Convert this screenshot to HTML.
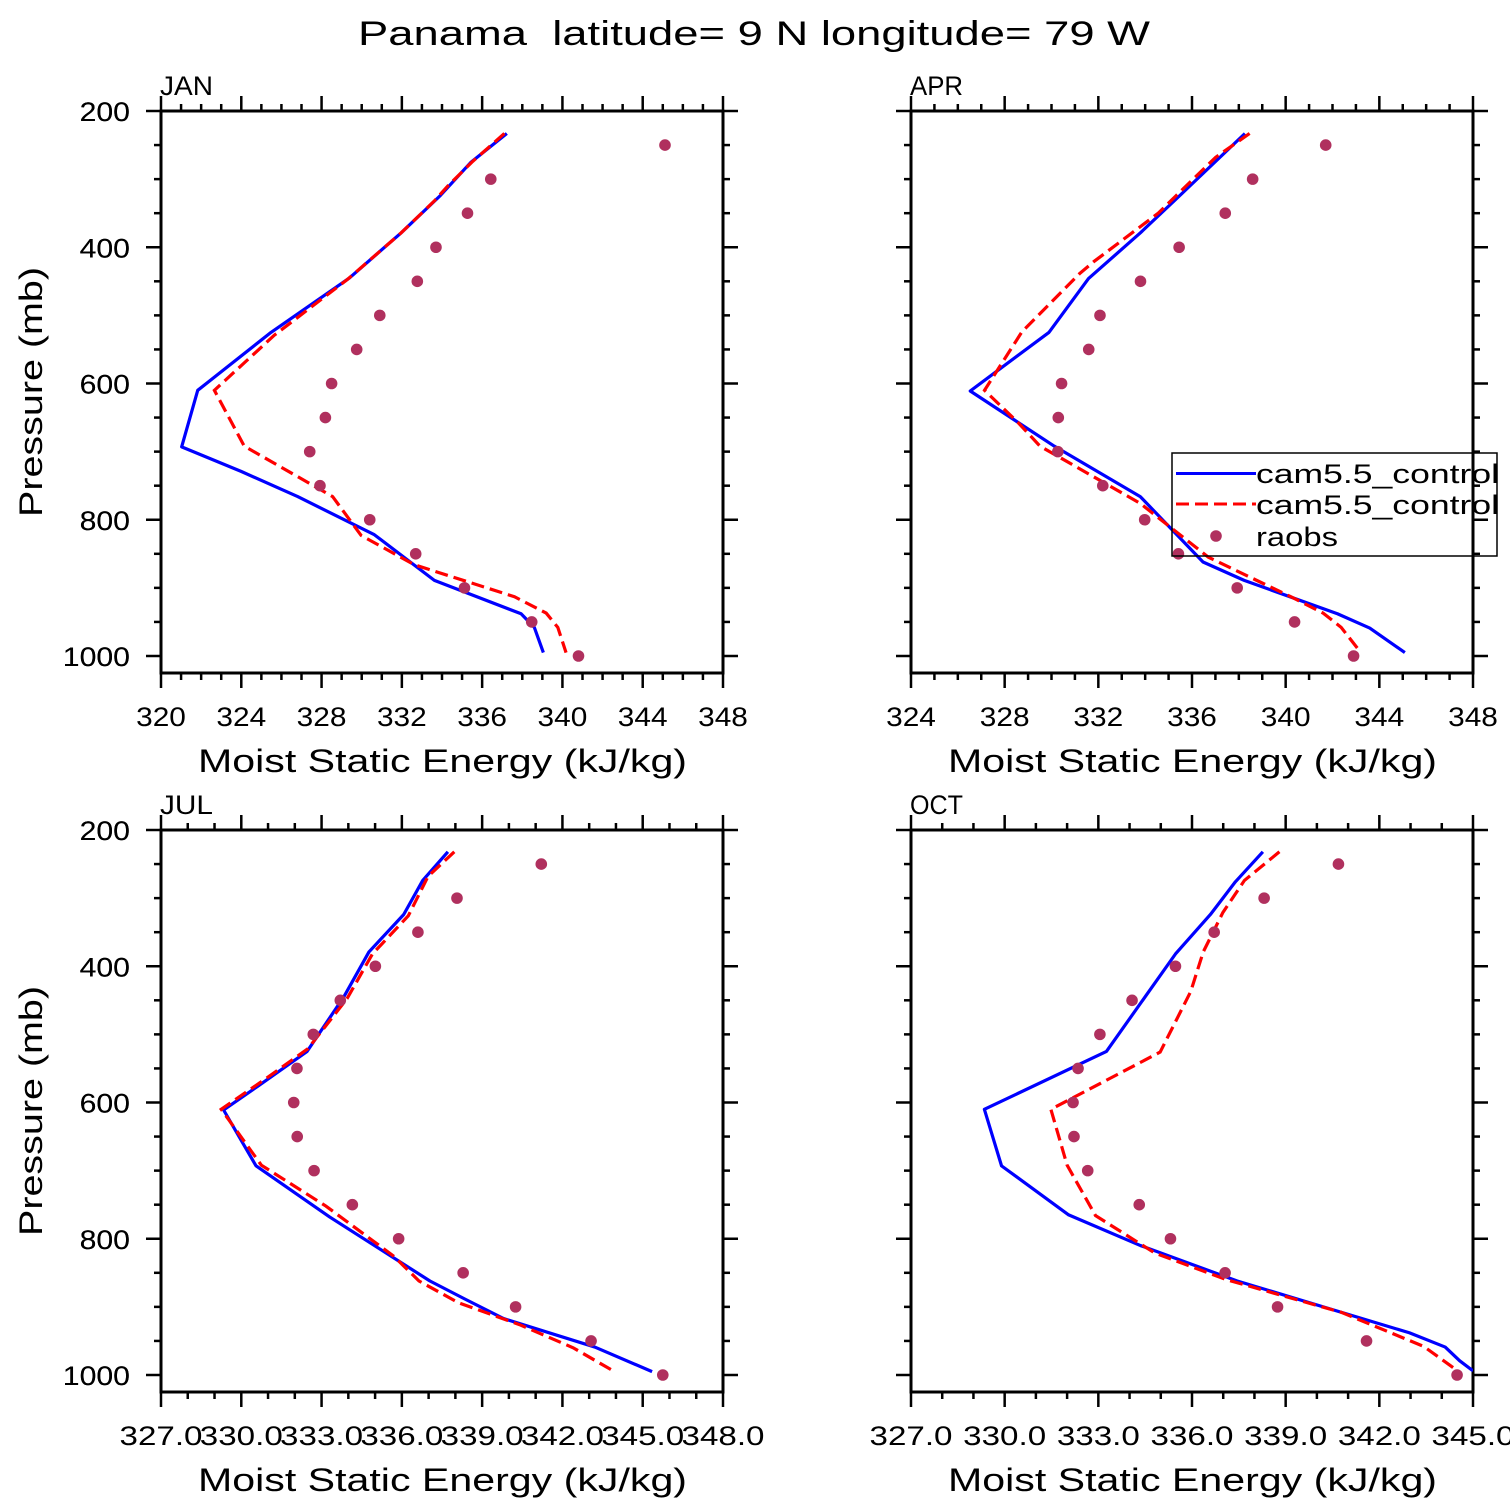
<!DOCTYPE html>
<html><head><meta charset="utf-8"><style>
html,body{margin:0;padding:0;background:#fff;}
svg{display:block;font-family:"Liberation Sans",sans-serif;}
text{white-space:pre;}
</style></head><body>
<svg id="chart" width="1510" height="1510" viewBox="0 0 1510 1510" xmlns="http://www.w3.org/2000/svg">
<rect x="0" y="0" width="1510" height="1510" fill="#fff"/>
<text x="358" y="45" font-size="34" textLength="792" lengthAdjust="spacingAndGlyphs" xml:space="preserve">Panama  latitude= 9 N longitude= 79 W</text>
</svg>
<script>
// ---- data ----
const obsPressure = [250,300,350,400,450,500,550,600,650,700,750,800,850,900,950,1000];

const janBlueP = [233,275,324,379,445,525,610,693,729,766,822,889,938,958,995];
const janBlueV = [337.23,335.45,333.92,331.96,329.39,325.48,321.83,321.03,323.99,326.81,330.63,333.62,337.94,338.60,339.05];
const janRedP = [233,274,310,332,379,447,529,610,692,766,823,866,913,937,958,995];
const janRedV = [337.11,335.53,334.29,333.62,331.96,329.30,325.65,322.66,324.15,328.55,329.97,332.62,337.61,339.19,339.77,340.18];
const janObs = [345.11,336.43,335.27,333.70,332.77,330.90,329.75,328.50,328.19,327.41,327.92,330.40,332.69,335.12,338.47,340.80];

const aprBlueP = [233,329,379,446,525,611,692,766,862,889,938,959,995];
const aprBlueV = [338.26,335.33,333.79,331.58,329.89,326.53,330.12,333.79,336.47,338.23,342.21,343.59,345.09];
const aprRedP = [233,268,324,350,421,439,524,610,658,692,710,776,855,913,937,958,995];
const aprRedV = [338.46,337.01,335.33,334.56,331.81,331.19,328.74,327.14,328.59,329.51,330.43,333.79,336.70,340.22,341.60,342.37,343.21];
const aprObs = [341.71,338.59,337.42,335.45,333.80,332.07,331.59,330.43,330.29,330.27,332.19,333.98,335.42,337.93,340.38,342.90];

const julBlueP = [232,274,324,379,445,525,576,611,693,768,862,889,917,959,995];
const julBlueV = [337.72,336.78,336.07,334.77,333.83,332.46,330.62,329.34,330.55,333.30,337.05,338.38,339.79,343.21,345.35];
const julRedP = [232,268,326,382,447,521,566,610,692,752,826,862,894,926,960,992];
const julRedV = [337.96,336.98,336.24,334.90,333.96,332.49,330.88,329.25,330.75,333.16,335.71,336.64,338.12,340.39,342.40,343.81];
const julObs = [341.21,338.06,336.60,335.01,333.70,332.69,332.08,331.96,332.09,332.72,334.15,335.88,338.29,340.25,343.07,345.75];

const octBlueP = [232,276,324,382,525,610,693,765,810,862,938,959,979,994];
const octBlueV = [338.27,337.39,336.59,335.47,333.26,329.35,329.90,332.05,334.35,337.45,342.96,344.11,344.57,345.0];
const octRedP = [232,274,321,379,437,526,610,692,766,821,860,884,908,958,992];
const octRedV = [338.80,337.68,336.99,336.36,335.96,334.98,331.48,332.0,332.91,334.81,337.10,338.94,340.78,343.42,344.45];
const octObs = [340.69,338.31,336.71,335.47,334.08,333.05,332.35,332.19,332.22,332.66,334.31,335.31,337.06,338.74,341.59,344.49];

const panelNames = ["JAN","APR","JUL","OCT"];
const xMins = [320,324,327,327];
const xMaxs = [348,348,348,345];
const xMajorSteps = [4,4,3,3];
const xLabelDecimals = [0,0,1,1];
const yTickLabels = [200,400,600,800,1000];

// ---- drawing ----
const NS = "http://www.w3.org/2000/svg";
const svg = document.getElementById("chart");
function mk(tag, attrs, parent){
  const e = document.createElementNS(NS, tag);
  for (const k in attrs) e.setAttribute(k, attrs[k]);
  (parent||svg).appendChild(e);
  return e;
}
const panels = [
  {ox:161, oy:111, bp:janBlueP, bv:janBlueV, rp:janRedP, rv:janRedV, ob:janObs},
  {ox:911, oy:111, bp:aprBlueP, bv:aprBlueV, rp:aprRedP, rv:aprRedV, ob:aprObs},
  {ox:161, oy:830, bp:julBlueP, bv:julBlueV, rp:julRedP, rv:julRedV, ob:julObs},
  {ox:911, oy:830, bp:octBlueP, bv:octBlueV, rp:octRedP, rv:octRedV, ob:octObs}
];
const W = 562, PXMB = 545/800, H = 562;

panels.forEach((pn, i) => {
  const xmin = xMins[i], xmax = xMaxs[i];
  const xs = v => pn.ox + (v - xmin) / (xmax - xmin) * W;
  const ys = p => pn.oy + (p - 200) * PXMB;
  const g = mk("g", {});
  
  
  const clipId = "clip" + i;
  const cp = mk("clipPath", {id: clipId}, g);
  mk("rect", {x: pn.ox, y: pn.oy, width: W, height: H}, cp);

  const lab = mk("text", {x: pn.ox - 1, y: pn.oy - 16, "font-size": 27, textLength: 53, lengthAdjust: "spacingAndGlyphs"}, g);
  
  
  lab.textContent = panelNames[i];

  for (let p = 200; p <= 1025; p += 50) {
    const major = p % 200 === 0;
    const len = major ? 15 : 7;
    const y = ys(p);
    mk("line", {x1: pn.ox - len, x2: pn.ox, y1: y, y2: y, stroke: "#000", "stroke-width": 2.5}, g);
    mk("line", {x1: pn.ox + W, x2: pn.ox + W + len, y1: y, y2: y, stroke: "#000", "stroke-width": 2.5}, g);
  }
  yTickLabels.forEach(p => {
    const s = String(p);
    const t = mk("text", {x: 130, y: ys(p) + 10, "font-size": 27, "text-anchor": "end", textLength: s.length * 16.8, lengthAdjust: "spacingAndGlyphs"}, g);
    
    
    t.textContent = s;
  });
  for (let v = xmin; v <= xmax + 1e-6; v += 1) {
    const major = ((v - xmin) % xMajorSteps[i]) === 0;
    const len = major ? 15 : 7;
    const x = xs(v);
    mk("line", {x1: x, x2: x, y1: pn.oy - len, y2: pn.oy, stroke: "#000", "stroke-width": 2.5}, g);
    mk("line", {x1: x, x2: x, y1: pn.oy + H, y2: pn.oy + H + len, stroke: "#000", "stroke-width": 2.5}, g);
    if (major) {
      const s = v.toFixed(xLabelDecimals[i]);
      const t = mk("text", {x: x, y: pn.oy + H + 53, "font-size": 27, "text-anchor": "middle", textLength: s.length * 16.6, lengthAdjust: "spacingAndGlyphs"}, g);
      
      
      t.textContent = s;
    }
  }
  const fr = mk("rect", {x: pn.ox, y: pn.oy, width: W, height: H, fill: "none", stroke: "#000", "stroke-width": 3}, g);
  
  

  const xt = mk("text", {x: pn.ox + 37, y: pn.oy + H + 99, "font-size": 32, textLength: 489, lengthAdjust: "spacingAndGlyphs"}, g);
  
  
  xt.textContent = "Moist Static Energy (kJ/kg)";
  if (i % 2 === 0) {
    const cy = pn.oy + 281;
    const yt = mk("text", {x: 0, y: 0, "font-size": 32, "text-anchor": "middle", textLength: 250, lengthAdjust: "spacingAndGlyphs", transform: "translate(42," + cy + ") rotate(-90)"}, g);
    
    
    yt.textContent = "Pressure (mb)";
  }

  const dg = mk("g", {"clip-path": "url(#" + clipId + ")"}, g);
  const bl = mk("polyline", {points: pn.bp.map((p, k) => xs(pn.bv[k]) + "," + ys(p)).join(" "), fill: "none", stroke: "#0000ff", "stroke-width": 3.2, "stroke-linejoin": "round"}, dg);
  
  
  const rl = mk("polyline", {points: pn.rp.map((p, k) => xs(pn.rv[k]) + "," + ys(p)).join(" "), fill: "none", stroke: "#ff0000", "stroke-width": 3.2, "stroke-dasharray": "13 6"}, dg);
  
  
  pn.ob.forEach((v, k) => {
    const c = mk("circle", {cx: xs(v), cy: ys(obsPressure[k]), r: 5.8, fill: "#b0305e"}, dg);
    
    
  });
});

const lg = mk("g", {});


mk("rect", {x: 1172, y: 453, width: 325, height: 103, fill: "none", stroke: "#000", "stroke-width": 1.5}, lg);
mk("line", {x1: 1176, x2: 1256, y1: 473.5, y2: 473.5, stroke: "#0000ff", "stroke-width": 3}, lg);
mk("line", {x1: 1176, x2: 1256, y1: 504, y2: 504, stroke: "#ff0000", "stroke-width": 3, "stroke-dasharray": "13 6"}, lg);
mk("circle", {cx: 1216, cy: 536, r: 5.8, fill: "#b0305e"}, lg);
const legLabels = ["cam5.5_control", "cam5.5_control", "raobs"];
const legY = [483, 514, 546];
legLabels.forEach((s, k) => {
  const t = mk("text", {x: 1256, y: legY[k], "font-size": 27}, lg);
  t.setAttribute("textLength", k < 2 ? 243 : 82);
  t.setAttribute("lengthAdjust", "spacingAndGlyphs");
  
  
  t.textContent = s;
});
</script>
</body></html>
